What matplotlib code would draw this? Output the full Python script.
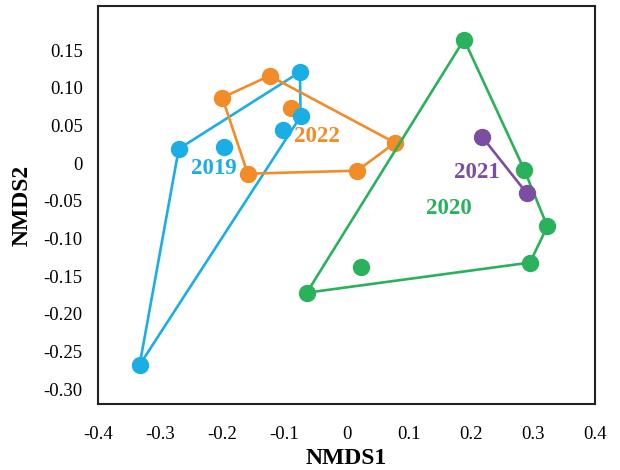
import matplotlib.pyplot as plt

# NMDS scores per year
x2019 = [-0.075, -0.074, -0.103, -0.197, -0.270, -0.333]
y2019 = [0.121, 0.062, 0.044, 0.022, 0.019, -0.268]
hull2019 = [4, 0, 1, 5, 4]

x2022 = [-0.124, -0.200, -0.089, -0.159, 0.017, 0.078]
y2022 = [0.116, 0.087, 0.073, -0.014, -0.010, 0.027]
hull2022 = [1, 0, 5, 4, 3, 1]

x2020 = [0.189, 0.286, 0.323, 0.295, 0.023, -0.064]
y2020 = [0.164, -0.009, -0.084, -0.132, -0.138, -0.172]
hull2020 = [0, 1, 2, 3, 5, 0]

x2021 = [0.218, 0.290]
y2021 = [0.035, -0.040]
hull2021 = [0, 1]

blue = '#1BAEE4'
orange = '#F28C28'
green = '#2AB15C'
purple = '#7B4EA2'

plt.rcParams['font.family'] = ['Liberation Serif', 'DejaVu Serif']

fig = plt.figure(figsize=(6.2, 4.7), dpi=100)
ax = fig.add_axes([0.158, 0.14, 0.802, 0.847])

lw = 1.9
ms = 11.5

ax.plot([x2019[i] for i in hull2019], [y2019[i] for i in hull2019], color=blue, lw=lw, zorder=1)
ax.plot([x2022[i] for i in hull2022], [y2022[i] for i in hull2022], color=orange, lw=lw, zorder=2)
ax.plot(x2022, y2022, 'o', color=orange, ms=ms, zorder=3)
ax.plot(x2019, y2019, 'o', color=blue, ms=ms, zorder=4)
ax.plot([x2020[i] for i in hull2020], [y2020[i] for i in hull2020], color=green, lw=lw, zorder=5)
ax.plot(x2020, y2020, 'o', color=green, ms=ms, zorder=6)
ax.plot([x2021[i] for i in hull2021], [y2021[i] for i in hull2021], color=purple, lw=lw, zorder=7)
ax.plot(x2021, y2021, 'o', color=purple, ms=ms, zorder=8)

lab = dict(fontsize=16.5, fontweight='bold', ha='center', va='center', zorder=9)
ax.text(-0.214, -0.007, '2019', color=blue, **lab)
ax.text(-0.047, 0.035, '2022', color=orange, **lab)
ax.text(0.209, -0.012, '2021', color=purple, **lab)
ax.text(0.165, -0.060, '2020', color=green, **lab)

ax.set_xlim(-0.4, 0.4)
ax.set_ylim(-0.32, 0.2085)

xt = [-0.4, -0.3, -0.2, -0.1, 0, 0.1, 0.2, 0.3, 0.4]
yt = [-0.30, -0.25, -0.20, -0.15, -0.10, -0.05, 0, 0.05, 0.10, 0.15]
ax.set_xticks(xt)
ax.set_xticklabels(['0' if v == 0 else f'{v:.1f}' for v in xt])
ax.set_yticks(yt)
ax.set_yticklabels(['0' if v == 0 else f'{v:.2f}' for v in yt])
ax.tick_params(length=0, labelsize=13.5)
ax.tick_params(axis='x', pad=16)
ax.tick_params(axis='y', pad=11)

for s in ax.spines.values():
    s.set_linewidth(1.5)
    s.set_color('#222222')

ax.set_xlabel('NMDS1', fontsize=17, fontweight='bold', va='center')
ax.set_ylabel('NMDS2', fontsize=17, fontweight='bold', va='center')
ax.xaxis.set_label_coords(0.5, -0.136)
ax.yaxis.set_label_coords(-0.153, 0.5)

fig.savefig('out.png', dpi=100)
